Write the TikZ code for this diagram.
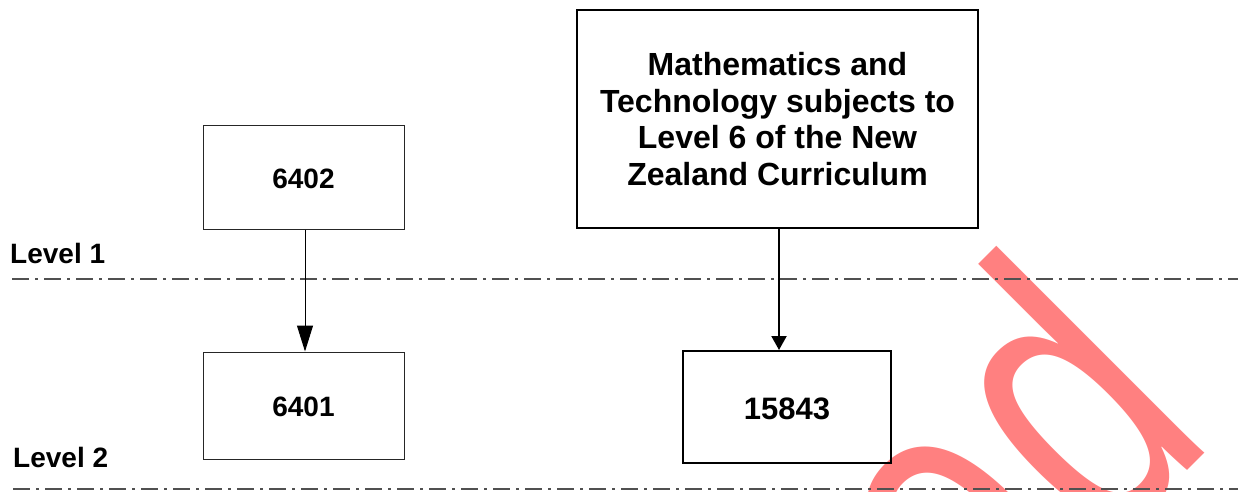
\documentclass[tikz,border=0pt]{standalone}
\usepackage{fontspec}
\setmainfont{Liberation Sans}
\usetikzlibrary{arrows.meta}
\definecolor{wmark}{RGB}{255,128,128}
\definecolor{levline}{RGB}{80,80,80}
\tikzset{
  thinbox/.style={draw=black!85, line width=1pt, inner sep=0pt, align=center,
    font=\fontsize{28}{32}\selectfont\bfseries},
  thickbox/.style={draw=black, line width=2pt, inner sep=0pt, align=center,
    font=\fontsize{32}{36.6}\selectfont\bfseries},
  thinarrow/.style={line width=1pt, -{Triangle[length=26pt,width=16pt]}},
  thickarrow/.style={line width=2pt, -{Triangle[length=14pt,width=15pt]}},
  levelline/.style={draw=levline, line width=1.4pt, dash pattern=on 17pt off 6pt on 3pt off 6pt},
  levellabel/.style={anchor=base west, inner sep=0pt, font=\fontsize{28}{32}\selectfont\bfseries},
}
\begin{document}
\begin{tikzpicture}[x=1pt,y=-1pt]
\useasboundingbox (0,0) rectangle (1238,491);
% watermark
\begin{scope}
\clip (0,0) rectangle (1238,491);
\node[anchor=base east, inner sep=0pt, rotate=45, text=wmark,
  font=\fontsize{405}{405}\selectfont] (wm) at (1218,440) {\scalebox{0.72}[1]{e\kern14pt d}};
\end{scope}
% level lines
\coordinate (l1a) at (12,279);
\coordinate (l1b) at (1238,279);
\coordinate (l2a) at (13,489);
\coordinate (l2b) at (1238,489);
\draw[levelline] (l1a) -- (l1b);
\draw[levelline] (l2a) -- (l2b);
\node[levellabel] (lev1) at (10,263) {Level 1};
\node[levellabel] (lev2) at (13,467) {Level 2};
% boxes
\node[thinbox, minimum width=201pt, minimum height=104pt, text height=24pt] (a) at (303.5,177) {6402};
\node[thinbox, minimum width=201pt, minimum height=107pt, text height=22pt] (b) at (303.5,405.5) {6401};
\node[thickbox, minimum width=401pt, minimum height=218pt] (m) at (777.5,119)
  {Mathematics and\\Technology subjects to\\Level 6 of the New\\Zealand Curriculum};
\node[thickbox, minimum width=208pt, minimum height=112pt, text height=26.2pt,
  font=\fontsize{31}{36}\selectfont\bfseries] (c) at (787,407) {15843};
% arrows
\draw[thinarrow] ([xshift=1.5pt]a.south) -- ([xshift=1.5pt]b.north);
\draw[thickarrow] ([xshift=1.5pt]m.south) -- ([xshift=1.5pt]m.south |- c.north);
\end{tikzpicture}
\end{document}
